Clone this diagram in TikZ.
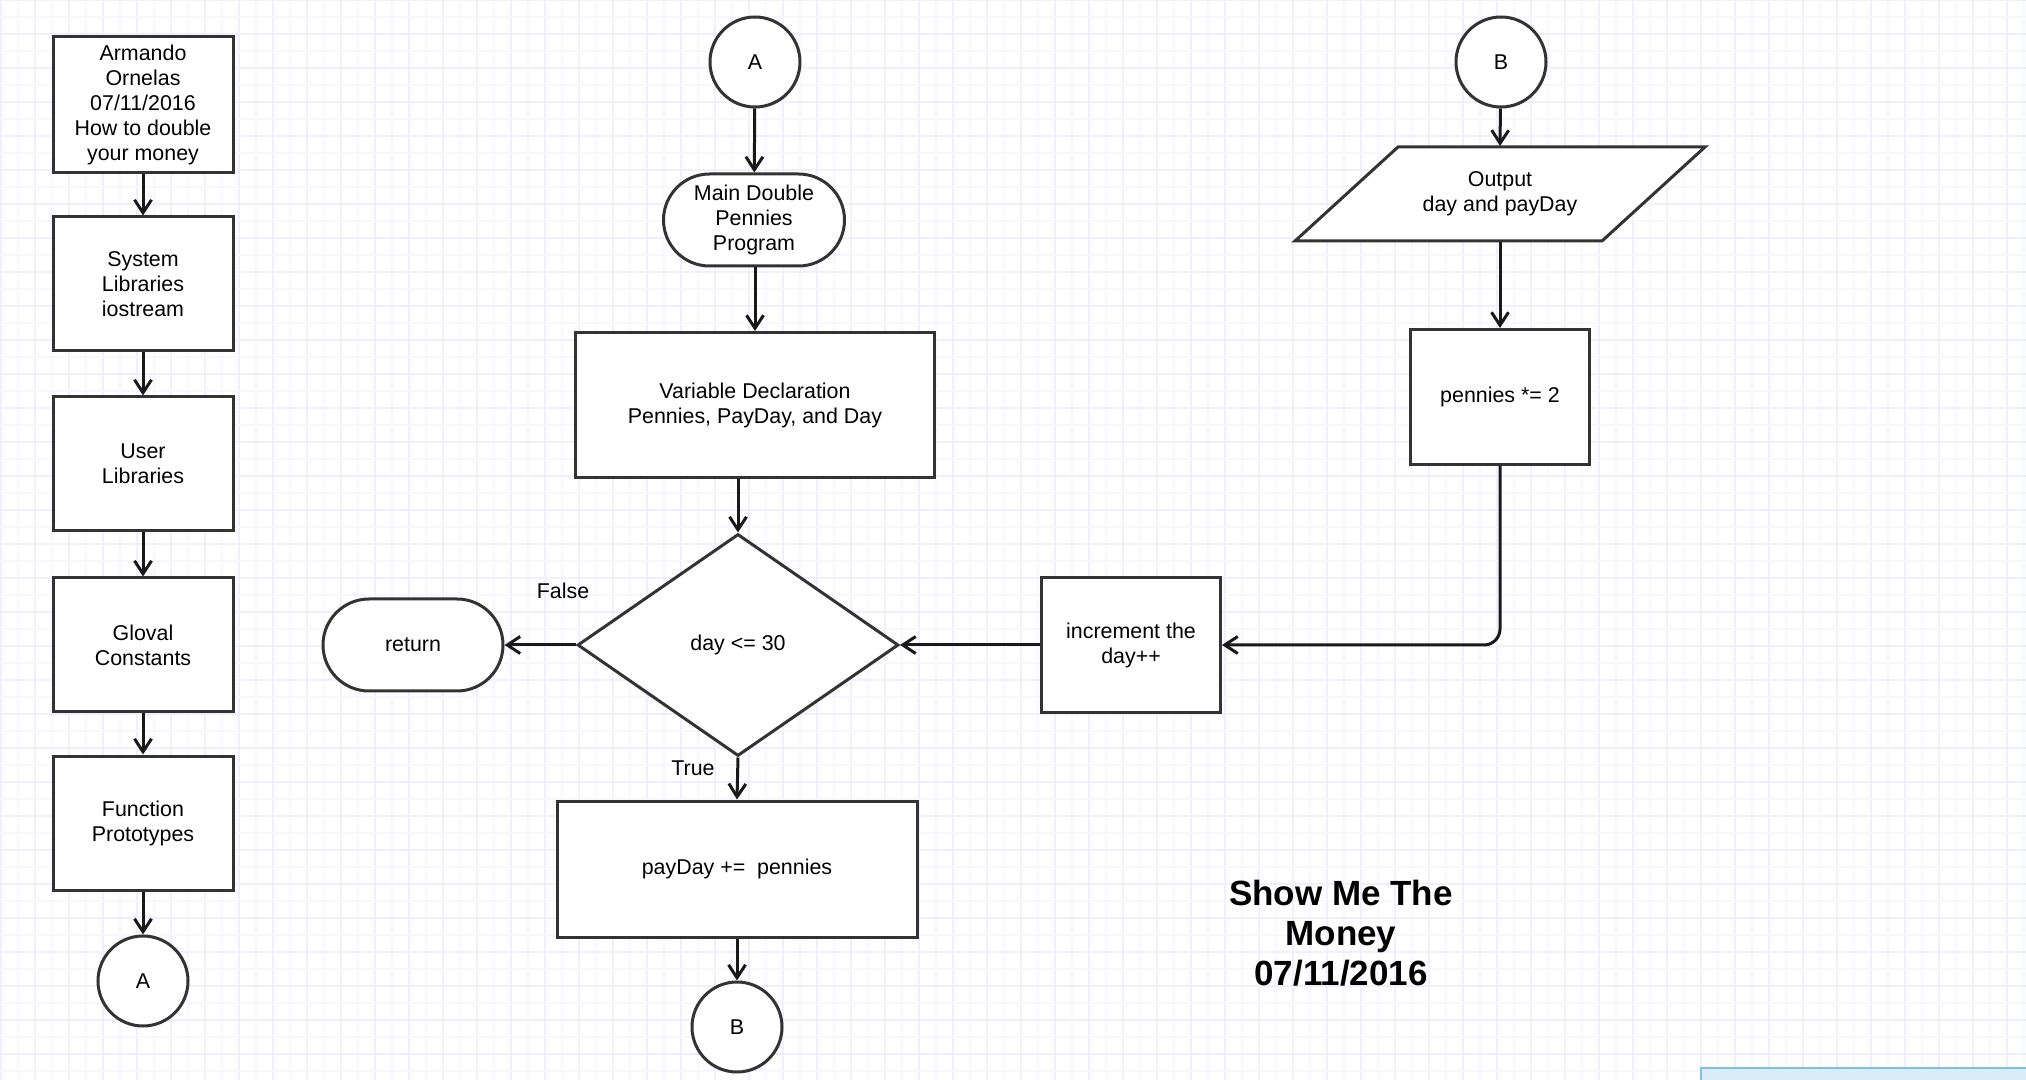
\documentclass[tikz,border=0pt]{standalone}
\usepackage{fontspec}
\setmainfont{Liberation Sans}
\usetikzlibrary{arrows.meta,shapes.geometric,shapes.misc,calc}
\definecolor{gridminor}{HTML}{F7F7FF}
\definecolor{gridmajor}{HTML}{EFEFFD}
\definecolor{edge}{HTML}{333333}
\definecolor{bluefill}{HTML}{D9ECF7}
\definecolor{blueedge}{HTML}{7FC1E3}
\tikzset{
  base/.style={draw=edge, line width=1.5pt, fill=white, align=center, inner sep=0pt,
    font=\fontsize{10.7}{12.5}\selectfont},
  procbox/.style={base, rectangle, minimum width=90pt, minimum height=67pt},
  conn/.style={base, circle, minimum size=45pt},
  term/.style={base, rounded rectangle, minimum width=90pt, minimum height=46pt},
  decide/.style={base, diamond, minimum width=160.5pt, minimum height=111pt},
  arr/.style={draw=black!90, line width=1.5pt, -{Straight Barb[length=6.5pt,width=8.5pt]}},
  lbl/.style={font=\fontsize{10.7}{12.5}\selectfont, inner sep=0pt},
  titletxt/.style={font=\bfseries\fontsize{17.5}{20}\selectfont, align=center, inner sep=0pt}
}
\begin{document}
\begin{tikzpicture}[x=0.5pt,y=-0.5pt]
\useasboundingbox (0,0) rectangle (2026,1080);
\clip (0,0) rectangle (2026,1080);
\fill[white] (0,0) rectangle (2026,1080);
% grid
\foreach \i in {0,...,59} {
  \draw[gridminor, line width=0.9pt] ({18+34*\i},0) -- ++(0,1080);
  \draw[gridmajor, line width=0.9pt] ({1+34*\i},0) -- ++(0,1080);
}
\foreach \j in {0,...,32} {
  \draw[gridminor, line width=0.9pt] (0,{17.3+34*\j}) -- ++(2026,0);
  \draw[gridmajor, line width=0.9pt] (0,{0.3+34*\j}) -- ++(2026,0);
}
% blue box bottom right
\draw[blueedge, fill=bluefill, line width=1.2pt] (1701,1068) rectangle (2060,1110);

% left column
\node[procbox, minimum height=68pt] (b1) at (143,105) {Armando\\Ornelas\\07/11/2016\\How to double\\your money};
\node[procbox] (b2) at (143,284) {System\\Libraries\\iostream};
\node[procbox] (b3) at (143,464) {User\\Libraries};
\node[procbox] (b4) at (143,645) {Gloval\\Constants};
\node[procbox] (b5) at (143,823) {Function\\Prototypes};
\node[conn] (a1) at (143,981) {A};
\draw[arr] (b1) -- (b2);
\draw[arr] (b2) -- (b3);
\draw[arr] (b3) -- (b4);
\draw[arr] (b4) -- (b5);
\draw[arr] (b5) -- (a1);

% middle column
\node[conn] (a2) at (755,62) {A};
\node[term, minimum width=90.5pt] (main) at (754,220) {Main Double\\Pennies\\Program};
\node[procbox, minimum width=179.5pt, minimum height=72.5pt] (var) at (755,405) {Variable Declaration\\Pennies, PayDay, and Day};
\node[decide] (dia) at (738,645) {day <= 30};
\node[term] (ret) at (413,645) {return};
\node[procbox, minimum width=180pt, minimum height=68pt] (pay) at (737,869) {payDay +=\ \ pennies};
\node[conn] (b1c) at (737,1027) {B};
\node[lbl] (flbl) at (563,591) {False};
\node[lbl] (tlbl) at (693,768) {True};
\draw[arr] (a2) -- (main);
\draw[arr] (main.south -| var.north) -- (var.north);
\draw[arr] (var.south -| dia.north) -- (dia.north);
\draw[arr] (dia.west) -- (ret.east);
\draw[arr] (dia.south) -- (pay.north);
\draw[arr] (pay.south) -- (b1c.north);

% right column
\node[conn] (b2c) at (1501,62) {B};
\coordinate (oc) at (1500,194);
\draw[draw=edge, line width=1.5pt, fill=white]
  ($(oc)+(-102,-47)$) -- ($(oc)+(205,-47)$) -- ($(oc)+(102,47)$) -- ($(oc)+(-205,47)$) -- cycle;
\node[base, draw=none, fill=none, rectangle, minimum width=153.5pt, minimum height=46.5pt] (out) at (oc) {Output\\day and payDay};
\node[procbox, minimum width=89.5pt, minimum height=67.5pt] (pen) at (1500,397) {pennies *= 2};
\node[procbox, minimum width=89.5pt, minimum height=67.5pt] (inc) at (1131,645) {increment the\\day++};
\draw[arr] (b2c) -- (out.north);
\draw[arr] (out.south) -- (pen.north);
\draw[arr, rounded corners=8pt] (pen.south) |- (inc.east);
\draw[arr] (inc.west) -- (dia.east);

\node[titletxt] (title) at (1341,933) {Show Me The\\Money\\07/11/2016};
\end{tikzpicture}
\end{document}
